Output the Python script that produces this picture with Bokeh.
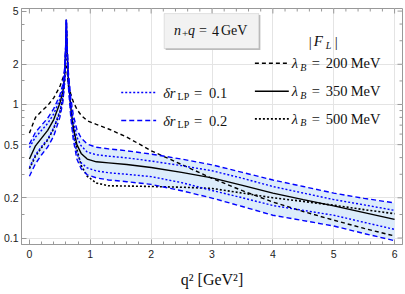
import math
from bokeh.plotting import figure
from bokeh.models import (FixedTicker, Range1d, Label, BoxAnnotation, Arrow)
from bokeh.embed import file_html
from bokeh.resources import INLINE

# ---------------- data ----------------
q2 = [0, 0.1, 0.2, 0.3, 0.4, 0.5, 0.55, 0.58, 0.60, 0.607, 0.615, 0.64, 0.68,
      0.72, 0.78, 0.85, 0.95, 1.1, 1.3, 1.6, 2.0, 2.5, 3.0, 3.5, 4.0, 4.5,
      5.0, 5.5, 6.0]

FL_350 = [0.39, 0.49, 0.56, 0.64, 0.77, 1.02, 1.25, 1.65, 3.0, 4.3, 3.0, 1.55,
          0.95, 0.68, 0.50, 0.43, 0.39, 0.372, 0.365, 0.355, 0.337, 0.31,
          0.282, 0.248, 0.217, 0.194, 0.174, 0.155, 0.138]
FL_200 = [0.61, 0.80, 0.89, 0.98, 1.12, 1.36, 1.58, 1.75, 1.9, 1.95, 1.85,
          1.38, 1.2, 1.05, 0.92, 0.83, 0.755, 0.71, 0.655, 0.57, 0.45, 0.355,
          0.28, 0.226, 0.186, 0.158, 0.136, 0.118, 0.1035]
FL_500 = [0.33, 0.41, 0.475, 0.54, 0.66, 0.87, 1.10, 1.5, 2.5, 3.5, 2.5, 1.5,
          1.0, 0.69, 0.46, 0.35, 0.29, 0.258, 0.246, 0.245, 0.243, 0.24,
          0.235, 0.217, 0.2, 0.188, 0.176, 0.163, 0.152]
# delta r_LP = 0.2 band edges (dashed) and 0.1 band edges (dotted)
FL_hi02 = [0.505, 0.62, 0.70, 0.79, 0.93, 1.17, 1.42, 1.9, 3.1, 4.3, 3.1, 1.75,
           1.12, 0.84, 0.65, 0.56, 0.505, 0.478, 0.465, 0.45, 0.425, 0.39,
           0.353, 0.31, 0.272, 0.243, 0.217, 0.198, 0.183]
FL_hi01 = [0.475, 0.57, 0.64, 0.72, 0.85, 1.09, 1.34, 1.8, 3.05, 4.3, 3.05,
           1.65, 1.04, 0.76, 0.57, 0.49, 0.44, 0.42, 0.41, 0.398, 0.377, 0.348,
           0.319, 0.28, 0.243, 0.217, 0.194, 0.177, 0.161]
FL_lo01 = [0.337, 0.42, 0.485, 0.55, 0.67, 0.89, 1.14, 1.6, 2.95, 4.3, 2.95,
           1.45, 0.86, 0.6, 0.43, 0.365, 0.335, 0.318, 0.308, 0.30, 0.288,
           0.26, 0.227, 0.2, 0.175, 0.161, 0.148, 0.131, 0.116]
FL_lo02 = [0.29, 0.36, 0.42, 0.48, 0.58, 0.80, 1.04, 1.5, 2.9, 4.3, 2.9, 1.37,
           0.8, 0.55, 0.39, 0.33, 0.297, 0.282, 0.272, 0.264, 0.252, 0.226,
           0.199, 0.172, 0.148, 0.135, 0.123, 0.108, 0.0955]

x_ticks = [0, 1, 2, 3, 4, 5, 6]
x_minor = [v / 5 for v in range(0, 31) if v % 5 != 0]
y_ticks = [0.1, 0.2, 0.5, 1, 2, 5]
y_tick_labels = ["0.1", "0.2", "0.5", "1", "2", "5"]
y_minor = [0.15, 0.3, 0.4, 0.6, 0.7, 0.8, 0.9, 1.5, 3, 4]

# ---------------- figure ----------------
X0, X1 = -0.13, 6.13
Y0, Y1 = 0.0894, 5.23
p = figure(width=405, height=294, y_axis_type="log",
           x_range=Range1d(X0, X1), y_range=Range1d(Y0, Y1),
           output_backend="svg", toolbar_location=None,
           min_border_left=20, min_border_right=3, min_border_top=8,
           min_border_bottom=50)
p.outline_line_color = "#999999"
p.outline_line_width = 1
p.background_fill_color = "white"

BLUE = "#0000ff"
GRAY = "#999999"
SERIF = "Liberation Serif"
SANS = "Liberation Sans"

# band fill
p.varea(x=q2, y1=FL_lo02, y2=FL_hi02, fill_color="#dcecfb", fill_alpha=1)

p.line(q2, FL_200, line_color="black", line_width=1.4, line_dash="4 3")
p.line(q2, FL_350, line_color="black", line_width=1.4)
p.line(q2, FL_500, line_color="black", line_width=1.6, line_dash="2 2")

p.line(q2, FL_hi02, line_color=BLUE, line_width=1.4, line_dash="5 3")
p.line(q2, FL_lo02, line_color=BLUE, line_width=1.4, line_dash="5 3")
p.line(q2, FL_hi01, line_color=BLUE, line_width=1.4, line_dash="2 2")
p.line(q2, FL_lo01, line_color=BLUE, line_width=1.4, line_dash="2 2")

# ---------------- axes / frame ----------------
xt = FixedTicker(ticks=x_ticks, minor_ticks=x_minor)
yt = FixedTicker(ticks=y_ticks, minor_ticks=y_minor)

for ax in (p.xaxis[0], p.yaxis[0]):
    ax.axis_line_color = GRAY
    ax.major_tick_line_color = GRAY
    ax.minor_tick_line_color = GRAY
    ax.major_tick_in = 5
    ax.major_tick_out = 0
    ax.minor_tick_in = 3
    ax.minor_tick_out = 0
    ax.major_label_text_font = SANS
    ax.major_label_text_font_size = "10.5px"
    ax.major_label_text_color = "#222222"

p.xaxis.ticker = xt
p.yaxis.ticker = yt
p.yaxis.major_label_overrides = {t: s for t, s in zip(y_ticks, y_tick_labels)}
p.xaxis.major_label_standoff = 5
p.yaxis.major_label_standoff = 3
p.xaxis.axis_label = "q² [GeV²]"
p.xaxis.axis_label_text_font = SERIF
p.xaxis.axis_label_text_font_style = "normal"
p.xaxis.axis_label_text_font_size = "16px"
p.xaxis.axis_label_text_color = "#111111"
p.xaxis.axis_label_standoff = 10

# ticks on the top and right edges of the frame
p.ray(x=x_ticks, y=Y1, length=5, angle=-math.pi / 2, length_units="screen",
      line_color=GRAY, line_width=1)
p.ray(x=x_minor, y=Y1, length=3, angle=-math.pi / 2, length_units="screen",
      line_color=GRAY, line_width=1)
p.ray(x=X1, y=y_ticks, length=5, angle=math.pi, length_units="screen",
      line_color=GRAY, line_width=1)
p.ray(x=X1, y=y_minor, length=3, angle=math.pi, length_units="screen",
      line_color=GRAY, line_width=1)

p.xgrid.ticker = FixedTicker(ticks=[1, 2, 3, 4, 5, 6])
p.ygrid.ticker = FixedTicker(ticks=[0.1, 0.2, 0.5, 1, 2])
p.xgrid.grid_line_color = "#e4e4e4"
p.ygrid.grid_line_color = "#e4e4e4"

# ---------------- annotations ----------------
FLpx, FRpx = 20.0, 402.0


def dx(xi):
    return X0 + (xi - FLpx) * (X1 - X0) / (FRpx - FLpx)


def dy(yi):
    return 10 ** ((103.9 - yi) / 133.6)


def txt(s, xi, yi, size=14, style="normal", font=SERIF):
    p.add_layout(Label(x=dx(xi), y=dy(yi), text=s, text_font=font,
                       text_font_size=f"{size}px", text_font_style=style,
                       text_baseline="middle", text_align="left",
                       text_color="#111111"))


def sample(x0, x1, yy, color, dash, width):
    p.add_layout(Arrow(x_start=dx(x0), y_start=dy(yy), x_end=dx(x1),
                       y_end=dy(yy), start=None, end=None, line_color=color,
                       line_dash=dash, line_width=width))


# box with n+q = 4 GeV
p.add_layout(BoxAnnotation(left=dx(164.5), right=dx(259.5), top=dy(14.5),
                           bottom=dy(49.5), fill_color="#bdbdbd", fill_alpha=1,
                           line_alpha=0))
p.add_layout(BoxAnnotation(left=dx(163), right=dx(258), top=dy(13),
                           bottom=dy(48), fill_color="#f2f2f2", fill_alpha=1,
                           line_color="#a8a8a8", line_width=1))
txt("n", 173, 30, 14, "italic")
txt("+", 181, 33, 11)
txt("q", 187, 30, 14, "italic")
txt("=", 198, 30, 14)
txt("4", 211, 30, 14)
txt("GeV", 220, 30, 14)

# |F_L|
txt("|", 308, 41, 15)
txt("F", 313, 40, 15, "italic")
txt("L", 325, 45, 10, "italic")
txt("|", 334, 41, 15)

# lambda_B entries
for yy, val, dash, w in [(62.7, "200", "4 3", 1.4), (90.7, "350", "solid", 1.4),
                         (118.3, "500", "2 2", 1.6)]:
    sample(254, 288, yy, "black", dash, w)
    txt("λ", 291, yy, 14.5, "italic")
    txt("B", 299.5, yy + 4, 10, "italic")
    txt("=", 311, yy, 14.5)
    txt(val, 325, yy, 14.5)
    txt("MeV", 350, yy, 14.5)

# delta r_LP entries
for yy, val, dash in [(92, "0.1", "2 2"), (120, "0.2", "5 3")]:
    sample(120, 155, yy, BLUE, dash, 1.4)
    txt("δr", 162, yy, 14.5, "italic")
    txt("LP", 176.5, yy + 4, 10)
    txt("=", 193, yy, 14.5)
    txt(val, 208, yy, 14.5)

open("out.html", "w").write(file_html(p, INLINE))
